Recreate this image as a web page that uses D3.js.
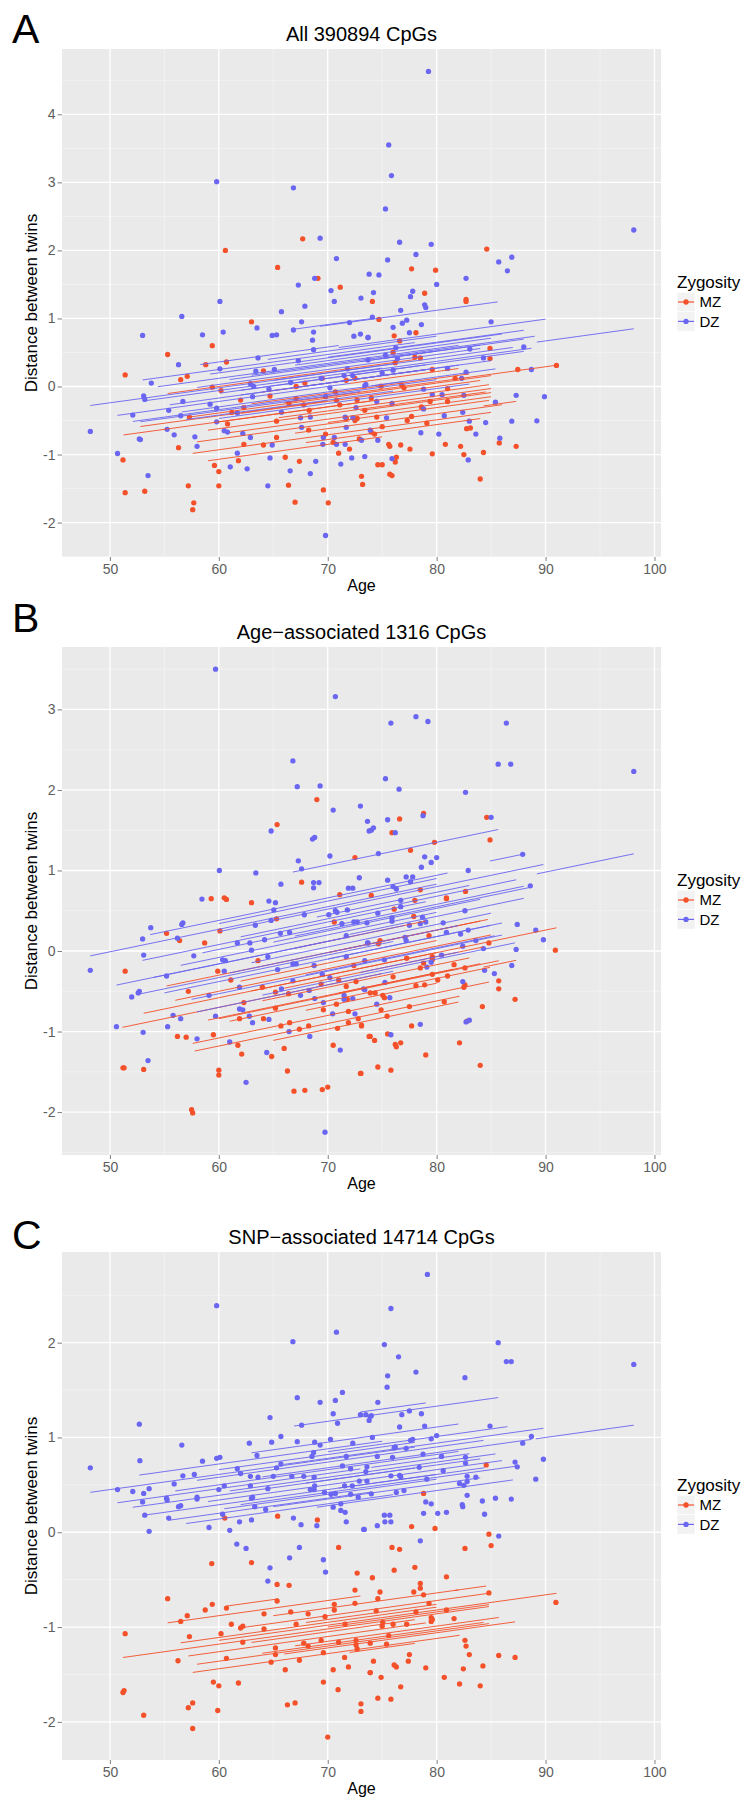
<!DOCTYPE html>
<html>
<head>
<meta charset="utf-8">
<script src="https://cdn.jsdelivr.net/npm/d3@7"></script>
<style>
  body { margin: 0; background: #fff; }
  svg { display: block; font-family: "Liberation Sans", Arial, sans-serif; }
</style>
</head>
<body>
<div id="chart"></div>
<script>
// ---- data ----
const xTicks = [50, 60, 70, 80, 90, 100];
const xDomain = [45.6, 100.6];
const groups = ["MZ", "DZ"];
const letters = ["A", "B", "C"];
const titles = ["All 390894 CpGs", "Age\u2212associated 1316 CpGs", "SNP\u2212associated 14714 CpGs"];
const yDomains = [[-2.506, 4.96], [-2.533, 3.775], [-2.402, 2.956]];
const yTicks = [[-2, -1, 0, 1, 2, 3, 4], [-2, -1, 0, 1, 2, 3], [-2, -1, 0, 1, 2]];
// common slope of the fitted pair lines (per year), one per panel
const slopes = [0.022, 0.028, 0.016];

// points: [age, distance]
const aPointsMZ = [[67.7,2.17],[60.6,2.0],[65.4,1.75],[69.1,1.59],[71.15,1.46],[84.6,2.02],[77.7,1.73],[79.9,1.71],[78.9,1.37],[82.7,1.28],[74.1,1.25],
  [63.0,0.95],[59.4,0.60],[55.3,0.47],[58.8,0.32],[60.7,0.36],[51.4,0.17],[56.5,0.10],[57.1,0.15],[64.1,0.23],[71.7,0.09],[72.5,0.12],[67.9,0.05],[67.1,0.0],[59.4,-0.01],[60.2,-0.06],[69.5,0.12],[70.7,-0.08],[62.0,-0.20],[64.7,-0.14],[67.1,-0.18],[66.45,-0.25],[67.8,-0.27],[70.8,-0.20],[71.1,-0.27],[72.7,-0.20],[57.3,-0.45],[61.2,-0.38],[62.3,-0.31],[68.3,-0.35],[71.7,-0.47],[72.7,-0.47],[65.3,-0.51],[60.8,-0.55],[56.3,-0.90],[65.3,-0.75],[68.25,-0.64],[72.9,-0.77],[69.8,-0.70],[62.3,-0.85],[64.1,-0.86],[70.5,-0.82],[72.0,-0.92],[71.0,-0.98],[51.2,-1.08],[61.8,-1.09],[59.6,-1.16],[60.0,-1.25],[66.1,-1.04],[67.4,-1.10],[73.1,-1.32],[73.2,-1.44],[51.4,-1.56],[53.2,-1.54],[57.2,-1.46],[57.7,-1.71],[57.6,-1.81],[60.0,-1.46],[66.4,-1.45],[67.0,-1.70],[69.6,-1.52],[70.05,-1.71],
  [82.7,1.25],[74.7,0.985],[78.1,0.79],[76.1,0.745],[76.6,0.67],[84.9,0.56],[76.0,0.505],[78.0,0.43],[78.5,0.42],[76.2,0.35],[84.9,0.41],[79.6,0.25],[87.45,0.25],[91.0,0.31],[81.7,0.12],[74.9,0.005],[76.8,0.02],[77.0,-0.02],[81.0,-0.03],[79.4,-0.22],[81.0,-0.22],[74.0,-0.17],[78.6,-0.30],[74.5,-0.45],[77.7,-0.44],[77.3,-0.50],[79.1,-0.54],[75.0,-0.59],[74.0,-0.67],[82.75,-0.62],[83.1,-0.61],[85.75,-0.83],[87.3,-0.88],[75.6,-0.85],[75.7,-0.88],[76.7,-0.86],[77.55,-0.92],[80.8,-0.85],[82.2,-0.88],[79.6,-0.99],[82.5,-1.00],[84.3,-0.97],[76.3,-1.04],[76.2,-1.11],[74.6,-1.15],[75.0,-1.15],[75.7,-1.29],[75.9,-1.31],[84.0,-1.36],[74.3,-0.70],[72.5,-0.50],[73.4,-0.35]];
const aPointsDZ = [[59.8,3.01],[66.85,2.92],[69.3,2.18],[70.8,1.88],[68.8,1.59],[67.3,1.49],[70.3,1.41],[73.05,1.30],[73.8,1.65],[60.1,1.25],
  [79.25,4.63],[75.6,3.55],[75.85,3.10],[75.3,2.61],[98.1,2.30],[76.6,2.12],[79.5,2.09],[75.5,1.86],[78.1,1.94],[85.7,1.83],[86.9,1.90],[86.5,1.70],[74.7,1.64],[82.7,1.59],[80.0,1.50],[74.2,1.38],[77.8,1.40],[77.6,1.32],
  [70.6,1.25],[56.6,1.03],[65.75,1.10],[67.9,1.18],[67.6,0.95],[72.0,0.94],[53.0,0.75],[58.5,0.76],[60.4,0.80],[63.5,0.86],[64.9,0.75],[65.3,0.76],[66.85,0.83],[68.7,0.80],[68.6,0.68],[72.4,0.74],[73.0,0.77],[73.7,0.72],[68.7,0.54],[56.3,0.32],[63.6,0.42],[67.3,0.38],[60.1,0.26],[53.8,0.05],[63.4,0.225],[65.1,0.25],[71.8,0.26],[71.5,0.16],[72.3,0.16],[66.6,0.06],[62.9,0.04],[63.2,0.0],[64.6,-0.04],[69.4,0.12],[70.2,-0.02],[73.4,0.01],[53.1,-0.14],[53.2,-0.19],[56.7,-0.22],[63.1,-0.15],[59.2,-0.26],[69.8,-0.15],[72.6,-0.31],[55.4,-0.35],[52.1,-0.42],[56.5,-0.43],[59.8,-0.32],[61.7,-0.39],[65.75,-0.38],[67.5,-0.46],[68.4,-0.45],[71.6,-0.45],[72.3,-0.46],[59.8,-0.52],[60.5,-0.65],[60.8,-0.67],[55.25,-0.63],[55.9,-0.71],[52.7,-0.77],[52.8,-0.78],[48.2,-0.66],[62.2,-0.69],[62.9,-0.75],[57.8,-0.74],[58.0,-0.88],[67.6,-0.60],[71.7,-0.60],[73.1,-0.79],[69.6,-0.75],[64.9,-0.86],[69.55,-0.85],[70.6,-0.75],[70.8,-0.85],[71.6,-0.85],[72.2,-1.05],[71.2,-1.14],[50.7,-0.985],[61.7,-0.98],[61.05,-1.18],[62.6,-1.21],[64.7,-1.05],[68.9,-1.10],[66.55,-1.24],[68.4,-1.28],[73.4,-1.03],[53.5,-1.31],[64.5,-1.46],[69.8,-2.19],
  [78.9,1.20],[79.0,1.16],[76.7,1.12],[74.1,1.02],[76.85,0.93],[77.25,0.975],[78.6,0.91],[85.0,0.95],[76.0,0.87],[77.5,0.79],[73.7,0.72],[76.25,0.57],[83.05,0.55],[75.3,0.46],[73.7,0.39],[76.4,0.41],[84.3,0.42],[81.0,0.265],[76.0,0.24],[82.7,0.21],[88.7,0.25],[88.0,0.58],[82.3,0.12],[73.5,0.03],[78.8,-0.04],[79.6,-0.12],[80.5,-0.12],[82.5,-0.13],[75.9,-0.25],[85.4,-0.23],[87.3,-0.13],[89.9,-0.15],[78.8,-0.33],[75.4,-0.46],[80.7,-0.43],[82.4,-0.38],[83.0,-0.51],[84.5,-0.53],[86.9,-0.51],[89.2,-0.505],[73.9,-0.64],[78.55,-0.68],[80.2,-0.70],[83.6,-0.70],[85.8,-0.76],[74.6,-0.79],[75.9,-1.06],[82.9,-1.08],[74.5,-0.22],[75.0,0.2]];

const bPointsMZ = [[69.0,1.88],[65.35,1.57],[72.5,1.16],[67.6,0.855],[71.1,0.70],[59.3,0.65],[60.5,0.66],[60.7,0.64],
  [76.6,1.64],[78.8,1.71],[84.6,1.66],[75.9,1.47],[84.9,1.38],[79.8,1.35],[77.6,1.25],[78.5,0.76],[82.65,0.74],[74.0,0.69],[80.9,0.66],[78.0,0.63],
  [63.0,0.60],[65.3,0.40],[70.6,0.36],[55.2,0.22],[56.4,0.13],[60.1,0.25],[58.7,0.10],[63.6,-0.12],[59.9,-0.25],[61.1,-0.36],[72.4,-0.18],[71.0,-0.36],[71.7,-0.44],[72.6,-0.38],[57.2,-0.50],[64.0,-0.45],[65.2,-0.51],[66.4,-0.53],[69.4,-0.41],[71.8,-0.60],[62.3,-0.64],[65.2,-0.71],[69.6,-0.73],[70.8,-0.66],[71.9,-0.75],[61.9,-0.84],[64.1,-0.84],[65.7,-0.93],[66.5,-0.89],[67.4,-0.97],[68.25,-0.93],[70.9,-0.96],[71.9,-0.89],[72.8,-0.84],[73.1,-0.93],[56.2,-1.06],[57.0,-1.07],[59.5,-1.04],[61.75,-1.17],[62.1,-1.28],[64.85,-1.31],[66.0,-1.21],[70.5,-1.17],[73.8,-1.06],[73.05,-1.52],[51.2,-1.45],[51.3,-1.45],[53.1,-1.47],[60.0,-1.48],[60.0,-1.54],[66.3,-1.49],[66.9,-1.74],[67.9,-1.73],[69.5,-1.72],[70.0,-1.69],[57.5,-1.97],[57.6,-2.01],[51.4,-0.25],
  [80.9,0.65],[76.1,0.52],[77.9,0.43],[90.9,0.01],[79.3,0.19],[74.8,0.13],[74.65,0.09],[84.8,0.10],[79.6,-0.07],[79.6,-0.11],[77.25,-0.09],[78.5,-0.21],[78.8,-0.15],[81.6,-0.17],[82.6,-0.21],[76.0,-0.32],[79.6,-0.29],[81.0,-0.31],[80.1,-0.36],[78.1,-0.43],[78.9,-0.42],[82.5,-0.45],[82.6,-0.42],[85.7,-0.37],[85.7,-0.47],[73.9,-0.52],[74.35,-0.52],[75.05,-0.55],[75.2,-0.58],[80.7,-0.63],[87.2,-0.60],[74.9,-0.73],[77.5,-0.69],[84.2,-0.69],[75.45,-0.81],[73.1,-0.92],[77.7,-0.93],[82.8,-0.87],[75.5,-1.03],[73.9,-1.06],[74.3,-1.11],[76.2,-1.16],[76.3,-1.19],[76.7,-1.14],[82.1,-1.14],[74.6,-1.44],[75.8,-1.48],[79.0,-1.29],[84.0,-1.42],[73.0,-1.52]];
const bPointsDZ = [[59.7,3.50],[70.7,3.16],[66.8,2.36],[67.2,2.04],[69.3,2.05],[70.5,1.75],[73.0,1.80],[73.65,1.61],[64.8,1.49],[73.8,1.49],[68.6,1.39],[68.8,1.41],[70.2,1.18],[67.3,1.12],[67.6,1.02],[60.05,1.00],[63.4,0.97],[65.7,0.83],[68.7,0.85],[69.2,0.85],[68.7,0.785],[72.9,0.91],[71.9,0.78],[72.3,0.78],[58.45,0.645],
  [78.1,2.91],[75.8,2.83],[79.2,2.85],[86.4,2.83],[85.65,2.32],[86.8,2.32],[98.1,2.23],[75.3,2.14],[76.55,2.01],[82.65,1.97],[75.5,1.63],[78.75,1.68],[85.0,1.66],[74.0,1.50],[74.2,1.53],[76.2,1.47],[74.65,1.21],[78.9,1.17],[80.0,1.16],[79.5,1.10],[87.9,1.20],[78.6,1.04],[82.9,1.00],[77.2,0.92],[77.8,0.92],[77.6,0.86],[75.5,0.88],[76.0,0.80],[76.3,0.77],[88.6,0.81],
  [64.6,0.62],[65.2,0.60],[65.05,0.51],[64.8,0.38],[67.85,0.45],[70.1,0.45],[70.7,0.5],[70.85,0.48],[71.8,0.51],[71.3,0.34],[72.4,0.36],[72.7,0.36],[71.7,0.19],[53.75,0.29],[53.0,0.15],[56.6,0.33],[56.7,0.35],[56.2,0.16],[61.7,0.10],[62.85,0.10],[63.35,0.32],[64.2,0.14],[65.65,0.22],[66.5,0.23],[63.0,0.01],[53.1,-0.05],[57.7,-0.06],[60.35,-0.11],[60.6,-0.12],[64.5,-0.07],[65.4,-0.23],[66.8,-0.16],[67.1,-0.16],[68.75,-0.18],[71.7,-0.07],[73.7,0.10],[55.2,-0.31],[60.5,-0.25],[69.5,-0.29],[70.2,-0.33],[66.8,-0.37],[52.0,-0.57],[52.6,-0.52],[52.7,-0.50],[59.1,-0.55],[61.9,-0.45],[65.75,-0.47],[67.5,-0.55],[68.3,-0.49],[68.8,-0.59],[71.5,-0.55],[71.5,-0.60],[72.3,-0.59],[73.4,-0.48],[61.9,-0.72],[62.2,-0.73],[69.6,-0.64],[70.45,-0.78],[72.5,-0.78],[55.8,-0.80],[56.5,-0.84],[59.7,-0.81],[62.8,-0.81],[64.6,-0.85],[63.1,-0.89],[66.45,-1.00],[50.6,-0.94],[55.3,-0.94],[53.05,-1.01],[58.0,-1.09],[61.0,-1.13],[68.35,-1.06],[64.4,-1.26],[71.15,-1.23],[53.5,-1.36],[62.5,-1.63],[69.75,-2.25],[48.2,-0.24],
  [76.7,0.63],[76.7,0.55],[82.6,0.50],[74.6,0.47],[75.9,0.41],[75.9,0.37],[78.7,0.42],[79.0,0.36],[78.5,0.34],[73.6,0.35],[77.5,0.32],[80.6,0.35],[80.9,0.23],[82.2,0.21],[82.9,0.26],[87.4,0.33],[89.1,0.26],[89.8,0.14],[77.1,0.17],[77.2,0.13],[73.65,0.10],[83.6,0.13],[82.4,0.06],[84.3,0.03],[87.3,0.02],[80.45,-0.05],[75.2,-0.11],[73.4,-0.12],[79.1,-0.2],[79.5,-0.14],[86.9,-0.18],[84.4,-0.24],[85.3,-0.28],[75.25,-0.39],[82.4,-0.38],[73.3,-0.47],[75.7,-0.58],[74.5,-0.66],[78.5,-0.91],[82.7,-0.88],[83.0,-0.86],[75.8,-1.04]];

const cPointsMZ = [[84.55,0.71],[78.8,0.41],
  [60.55,0.15],[65.4,0.17],[69.05,0.13],[71.0,-0.16],[59.35,-0.33],[63.0,-0.32],[72.7,-0.43],[65.35,-0.55],[66.45,-0.56],[72.5,-0.61],[72.5,-0.75],[55.3,-0.70],[65.35,-0.725],[60.7,-0.80],[58.75,-0.82],[59.4,-0.76],[57.1,-0.88],[56.5,-0.94],[64.15,-0.86],[66.6,-0.84],[68.2,-0.86],[69.75,-0.89],[70.6,-0.76],[70.6,-0.82],[61.15,-0.97],[62.0,-1.01],[62.2,-0.99],[64.15,-1.02],[67.1,-0.97],[71.6,-0.97],[51.4,-1.07],[57.3,-1.10],[60.2,-1.07],[62.2,-1.16],[67.8,-1.17],[68.2,-1.20],[69.4,-1.14],[71.0,-1.16],[72.6,-1.14],[72.6,-1.19],[72.7,-1.23],[65.2,-1.22],[65.2,-1.29],[69.6,-1.27],[60.7,-1.33],[56.25,-1.355],[67.4,-1.35],[64.8,-1.37],[71.55,-1.32],[71.9,-1.42],[66.1,-1.45],[70.5,-1.45],[73.9,-1.48],[59.5,-1.58],[60.0,-1.62],[61.8,-1.59],[69.6,-1.58],[70.95,-1.66],[51.2,-1.69],[51.3,-1.67],[57.6,-1.80],[57.2,-1.85],[66.3,-1.82],[67.0,-1.80],[73.05,-1.81],[73.05,-1.89],[53.1,-1.93],[59.9,-1.88],[57.6,-2.07],[70.0,-2.16],
  [77.7,0.06],[79.85,0.04],[84.8,-0.02],[85.0,-0.14],[75.9,-0.16],[76.6,-0.18],[82.6,-0.17],[76.1,-0.40],[78.0,-0.37],[74.1,-0.48],[80.9,-0.47],[78.5,-0.54],[78.5,-0.59],[77.9,-0.63],[78.8,-0.66],[74.8,-0.63],[74.6,-0.70],[84.8,-0.64],[90.95,-0.74],[79.3,-0.75],[74.45,-0.83],[78.1,-0.84],[80.9,-0.82],[79.5,-0.90],[79.5,-0.94],[79.6,-0.92],[81.6,-0.91],[75.05,-0.95],[75.0,-0.99],[76.0,-0.97],[77.25,-0.97],[75.6,-1.09],[73.9,-1.17],[75.4,-1.18],[82.6,-1.14],[82.7,-1.20],[83.0,-1.29],[85.7,-1.30],[87.2,-1.32],[74.2,-1.36],[77.5,-1.29],[77.4,-1.36],[76.1,-1.40],[76.3,-1.42],[79.0,-1.43],[82.45,-1.44],[84.25,-1.41],[73.9,-1.48],[74.9,-1.53],[80.7,-1.53],[76.7,-1.63],[82.1,-1.60],[84.0,-1.62],[74.6,-1.75],[75.8,-1.76]];
const cPointsDZ = [[59.8,2.39],[66.8,2.01],[70.8,2.11],[71.35,1.475],[67.2,1.42],[69.3,1.37],[70.7,1.39],[70.5,1.25],[64.7,1.21],[52.7,1.14],[67.6,1.13],[70.9,1.15],[73.0,1.24],[73.5,1.24],[73.9,1.22],[65.7,1.01],[62.8,0.94],[64.85,0.95],[67.2,0.955],[68.8,0.95],[69.3,0.92],[70.25,0.98],[56.6,0.92],[72.3,0.94],[63.5,0.81],[59.8,0.78],[60.1,0.79],[58.5,0.75],[52.75,0.755],[48.2,0.68],[68.55,0.80],[68.7,0.84],[71.7,0.80],[71.35,0.70],[61.7,0.67],[65.7,0.72],[65.3,0.68],[56.7,0.595],[57.75,0.61],[63.6,0.58],[65.0,0.59],[66.7,0.59],[67.8,0.59],[68.75,0.58],[62.0,0.62],[62.9,0.59],[72.1,0.67],[55.9,0.51],[50.7,0.45],[52.1,0.43],[53.1,0.41],[53.6,0.46],[60.5,0.49],[60.0,0.45],[62.9,0.49],[64.5,0.46],[68.8,0.49],[68.75,0.45],[71.55,0.49],[72.25,0.49],[72.9,0.54],[69.7,0.42],[70.3,0.40],[70.7,0.41],[68.4,0.45],[58.0,0.37],[63.1,0.37],[55.2,0.36],
  [53.0,0.32],[53.2,0.18],[53.6,0.01],[55.25,0.34],[55.4,0.15],[56.3,0.27],[56.5,0.28],[58.0,0.35],[59.1,0.05],[60.35,0.19],[61.0,0.02],[61.65,-0.125],[61.9,0.11],[62.5,-0.17],[63.0,0.13],[63.0,0.36],[63.3,0.27],[64.3,0.24],[64.7,-0.375],[64.5,-0.515],[66.85,0.15],[66.5,-0.27],[67.4,-0.16],[67.55,0.08],[69.0,0.07],[69.6,-0.29],[69.8,-0.42],[70.5,0.265],[71.2,0.30],[71.2,0.23],[71.6,0.21],[71.7,0.11],[73.35,0.03],[72.1,0.40],[72.8,0.37],
  [79.15,2.72],[75.8,2.36],[75.2,1.98],[85.65,2.00],[86.4,1.80],[86.85,1.80],[98.1,1.77],[76.5,1.85],[78.1,1.69],[75.5,1.65],[82.6,1.63],[75.45,1.53],[74.6,1.37],[74.0,1.23],[73.8,1.18],[76.8,1.24],[77.5,1.28],[78.6,1.25],[76.6,1.11],[78.9,1.12],[84.9,1.12],[74.1,1.00],[77.6,0.97],[77.8,0.98],[79.5,0.985],[80.0,1.02],[88.7,1.01],[87.9,0.94],[89.8,0.77],[76.2,0.90],[76.1,0.89],[77.2,0.885],[74.55,0.80],[75.95,0.79],[78.75,0.825],[80.45,0.80],[82.65,0.79],[82.65,0.73],[87.2,0.74],[87.4,0.69],[73.6,0.69],[73.5,0.64],[78.4,0.685],[80.6,0.65],[76.6,0.60],[75.8,0.595],[76.7,0.585],[82.8,0.59],[82.8,0.535],[82.5,0.495],[82.1,0.515],[83.6,0.58],[79.1,0.56],[89.1,0.56],[73.6,0.54],[76.3,0.42],[77.0,0.44],[74.0,0.405],[82.8,0.39],[85.4,0.36],[86.85,0.35],
  [79.0,0.32],[79.5,0.30],[82.35,0.29],[82.4,0.27],[84.2,0.33],[75.2,0.18],[75.7,0.18],[78.8,0.20],[80.1,0.20],[80.9,0.21],[84.4,0.19],[75.25,0.11],[75.8,0.11],[74.55,0.07],[73.3,0.03],[78.5,-0.09],[85.7,-0.04]];

// fitted pair lines: [first age, last age, fitted distance at age 70]
const aLinesMZ = [[51.25,74,-0.30],[52.8,70,-0.21],[55.3,78,0.22],[57.1,85,-0.17],[57.6,85,-0.71],[58,72,-0.55],[59,84.5,-0.40],[60,84.8,-0.30],[61,85,-0.48],[62,84,-0.22],[63,83,-0.10],[64,79,0.05],[65.5,85,-0.36],[66,91,-0.15],[67,86,-0.62],[68,84,-0.78],[70,84.8,-0.53],[72,82,0.0],[73,85,-0.42],[84.3,87.3,-0.60],[59,75,-0.85]];
const aLinesDZ = [[48.2,76,0.20],[50.7,72,0.00],[52.1,80,-0.12],[53.0,78,0.47],[53.1,75,0.16],[52.8,73,-0.14],[54.4,82,0.34],[55.5,79,0.05],[56.6,77,-0.08],[58.0,84,0.25],[58.3,71,0.58],[59.2,86,0.42],[60.1,88,0.12],[61.0,80,0.30],[62.0,85,0.05],[63.0,89,0.32],[64.5,80,0.52],[65.0,87,0.20],[66.9,74,0.91],[69.3,85.6,0.90],[67.0,85,0.38],[68.0,82,0.05],[70.0,88,0.43],[71.0,90,0.55],[72.0,88.7,0.15],[73.0,84,0.30],[74.0,85.4,-0.08],[75.0,88,0.30],[89.2,98.1,0.23],[62.0,79,0.12],[57.0,76,-0.20],[60.0,83,-0.25]];
const bLinesMZ = [[51.15,75,-0.42],[53.1,80,-0.30],[55.2,84.7,-0.02],[56.0,85.0,-0.22],[57.6,84.8,-0.80],[57.8,82.1,-0.90],[59.0,84.0,-0.55],[60.0,85.7,-0.56],[61.0,84.9,-0.62],[62.0,80,-0.15],[63.0,91.0,-0.30],[64.0,83,-0.45],[65.0,82,-0.97],[66.0,84.3,-0.35],[67.0,79,0.12],[68.0,80,-0.68],[70.0,84,-0.02],[71.0,81.5,-0.55],[84.3,87.3,-0.60]];
const bLinesDZ = [[48.2,80,0.55],[50.6,72,0.12],[52.5,76,-0.05],[53.7,81,0.66],[53.0,79,0.36],[54.0,77,0.12],[55.0,85,-0.10],[56.5,80,0.20],[57.5,86,-0.25],[58.5,88,0.30],[60.0,89.8,0.52],[61.0,82,-0.02],[62.0,87.3,0.40],[63.0,85,0.05],[64.0,87.2,-0.38],[65.0,84,0.25],[66.8,85.65,1.07],[67.0,88.6,0.27],[68.0,85.3,-0.24],[69.0,83,0.45],[70.0,86,-0.10],[84.9,87.9,0.70],[72.0,88,0.15],[73.0,82,-0.35],[89.2,98.1,0.42],[58.0,76,-0.42],[60.0,80,0.62]];
const cLinesMZ = [[51.2,84.8,-1.02],[55.3,73,-0.72],[56.5,80,-0.95],[57.2,79,-1.10],[57.6,82.1,-1.28],[58.0,84.8,-1.20],[60.0,91.0,-0.98],[60.7,65.4,-0.63],[62.0,84.8,-0.88],[63.0,78,-1.05],[64.0,84.3,-1.18],[65.0,82,-0.80],[66.0,87.2,-1.22],[67.0,85.7,-1.15],[68.0,80,-0.92],[70.0,84.8,-1.00],[72.0,78,-1.30],[81.6,84.55,-0.80]];
const cLinesDZ = [[48.2,78,0.77],[50.7,73,0.62],[52.1,78,0.55],[52.7,75,0.88],[53.2,80,0.45],[55.4,74,0.36],[56.0,82,0.66],[57.0,76,0.30],[58.0,84.3,0.74],[59.0,86,0.50],[60.0,78,0.82],[61.0,85.4,0.58],[62.0,87.2,0.42],[63.0,82,0.95],[64.0,88.7,0.68],[65.0,84,0.35],[66.0,89.8,0.78],[66.9,85.65,1.17],[68.0,84,0.55],[69.0,87,0.28],[70.0,86.5,0.85],[71.0,84.4,0.45],[73.0,79,1.22],[74.0,83,0.62],[89.1,98.1,0.68],[60.5,80,0.40]];

const panels = [
  { points: [aPointsMZ, aPointsDZ], lines: [aLinesMZ, aLinesDZ] },
  { points: [bPointsMZ, bPointsDZ], lines: [bLinesMZ, bLinesDZ] },
  { points: [cPointsMZ, cPointsDZ], lines: [cLinesMZ, cLinesDZ] }
];

// ---- layout ----
const W = 746, H = 1800;
const panelTops = [49, 647, 1252];
const panelH = 508, left = 62, right = 661;
const colors = { MZ: "#F4502A", DZ: "#6A66F2" };
const dotR = 2.65;

const svg = d3.select("#chart").append("svg")
  .attr("width", W)
  .attr("height", H);

panels.forEach((p, i) => {
  const top = panelTops[i];
  const bottom = top + panelH;
  const yDom = yDomains[i];
  const x = d3.scaleLinear().domain(xDomain).range([left, right]);
  const y = d3.scaleLinear().domain(yDom).range([bottom, top]);
  const g = svg.append("g");

  // panel background + grid
  g.append("rect")
    .attr("x", left).attr("y", top)
    .attr("width", right - left).attr("height", panelH)
    .attr("fill", "#EAEAEA");

  const xMinor = d3.range(xTicks[0] - 5, xTicks[xTicks.length - 1] + 5, 10)
    .filter((v) => v > xDomain[0] && v < xDomain[1]);
  const yMinor = d3.range(Math.floor(yDom[0]) + 0.5, yDom[1], 1)
    .filter((v) => v > yDom[0] && v < yDom[1]);

  g.selectAll(".xminor").data(xMinor).enter().append("line")
    .attr("x1", (d) => x(d)).attr("x2", (d) => x(d))
    .attr("y1", top).attr("y2", bottom)
    .attr("stroke", "#F5F5F5").attr("stroke-width", 0.7);
  g.selectAll(".yminor").data(yMinor).enter().append("line")
    .attr("x1", left).attr("x2", right)
    .attr("y1", (d) => y(d)).attr("y2", (d) => y(d))
    .attr("stroke", "#F5F5F5").attr("stroke-width", 0.7);
  g.selectAll(".xmajor").data(xTicks).enter().append("line")
    .attr("x1", (d) => x(d)).attr("x2", (d) => x(d))
    .attr("y1", top).attr("y2", bottom)
    .attr("stroke", "#fff").attr("stroke-width", 1.3);
  g.selectAll(".ymajor").data(yTicks[i]).enter().append("line")
    .attr("x1", left).attr("x2", right)
    .attr("y1", (d) => y(d)).attr("y2", (d) => y(d))
    .attr("stroke", "#fff").attr("stroke-width", 1.3);

  // points
  groups.forEach((grp, k) => {
    g.selectAll(".pt" + grp).data(p.points[k]).enter().append("circle")
      .attr("cx", (d) => x(d[0]))
      .attr("cy", (d) => y(d[1]))
      .attr("r", dotR)
      .attr("fill", colors[grp]);
  });

  // fitted lines per twin pair
  groups.forEach((grp, k) => {
    const fit = (age, v70) => v70 + slopes[i] * (age - 70);
    g.selectAll(".ln" + grp).data(p.lines[k]).enter().append("line")
      .attr("x1", (d) => x(d[0]))
      .attr("y1", (d) => y(fit(d[0], d[2])))
      .attr("x2", (d) => x(d[1]))
      .attr("y2", (d) => y(fit(d[1], d[2])))
      .attr("stroke", colors[grp])
      .attr("stroke-width", 1)
      .attr("opacity", 0.9);
  });

  // axes
  const xAxis = g.append("g")
    .attr("transform", `translate(0,${bottom})`)
    .call(d3.axisBottom(x).tickValues(xTicks).tickSize(4).tickPadding(3.5).tickFormat((d) => String(d)));
  const yAxis = g.append("g")
    .attr("transform", `translate(${left},0)`)
    .call(d3.axisLeft(y).tickValues(yTicks[i]).tickSize(4.5).tickPadding(2).tickFormat((d) => String(d)));
  [xAxis, yAxis].forEach((ax) => {
    ax.select(".domain").remove();
    ax.selectAll(".tick line").attr("stroke", "#7F7F7F");
    ax.selectAll(".tick text")
      .attr("fill", "#5E5E5E")
      .style("font-size", "14px")
      .style("font-family", "'Liberation Sans', Arial, sans-serif");
  });

  // titles
  const midX = (left + right) / 2;
  const midY = (top + bottom) / 2;
  svg.append("text")
    .attr("x", 12).attr("y", [43, 632, 1249][i])
    .style("font-size", "41px")
    .text(letters[i]);
  svg.append("text")
    .attr("x", midX).attr("y", top - 8)
    .attr("text-anchor", "middle")
    .style("font-size", "20px")
    .text(titles[i]);
  svg.append("text")
    .attr("x", midX).attr("y", bottom + 34)
    .attr("text-anchor", "middle")
    .style("font-size", "16px")
    .text("Age");
  svg.append("text")
    .attr("transform", `translate(36.5,${midY}) rotate(-90)`)
    .attr("text-anchor", "middle")
    .style("font-size", "17px")
    .text("Distance between twins");

  // legend
  const lg = svg.append("g").attr("transform", `translate(677,${midY})`);
  lg.append("text")
    .attr("x", 0).attr("y", -15)
    .style("font-size", "17px")
    .text("Zygosity");
  groups.forEach((grp, k) => {
    const cy = -1 + k * 19.4;
    lg.append("rect")
      .attr("x", 0).attr("y", cy - 9.7)
      .attr("width", 18).attr("height", 19.4)
      .attr("fill", "#F2F2F2").attr("stroke", "#fff").attr("stroke-width", 0.6);
    lg.append("line")
      .attr("x1", 1).attr("x2", 17)
      .attr("y1", cy).attr("y2", cy)
      .attr("stroke", colors[grp]).attr("stroke-width", 1.2);
    lg.append("circle")
      .attr("cx", 9).attr("cy", cy).attr("r", dotR)
      .attr("fill", colors[grp]);
    lg.append("text")
      .attr("x", 22.5).attr("y", cy + 5.3)
      .style("font-size", "15px")
      .text(grp);
  });
});
</script>
</body>
</html>
